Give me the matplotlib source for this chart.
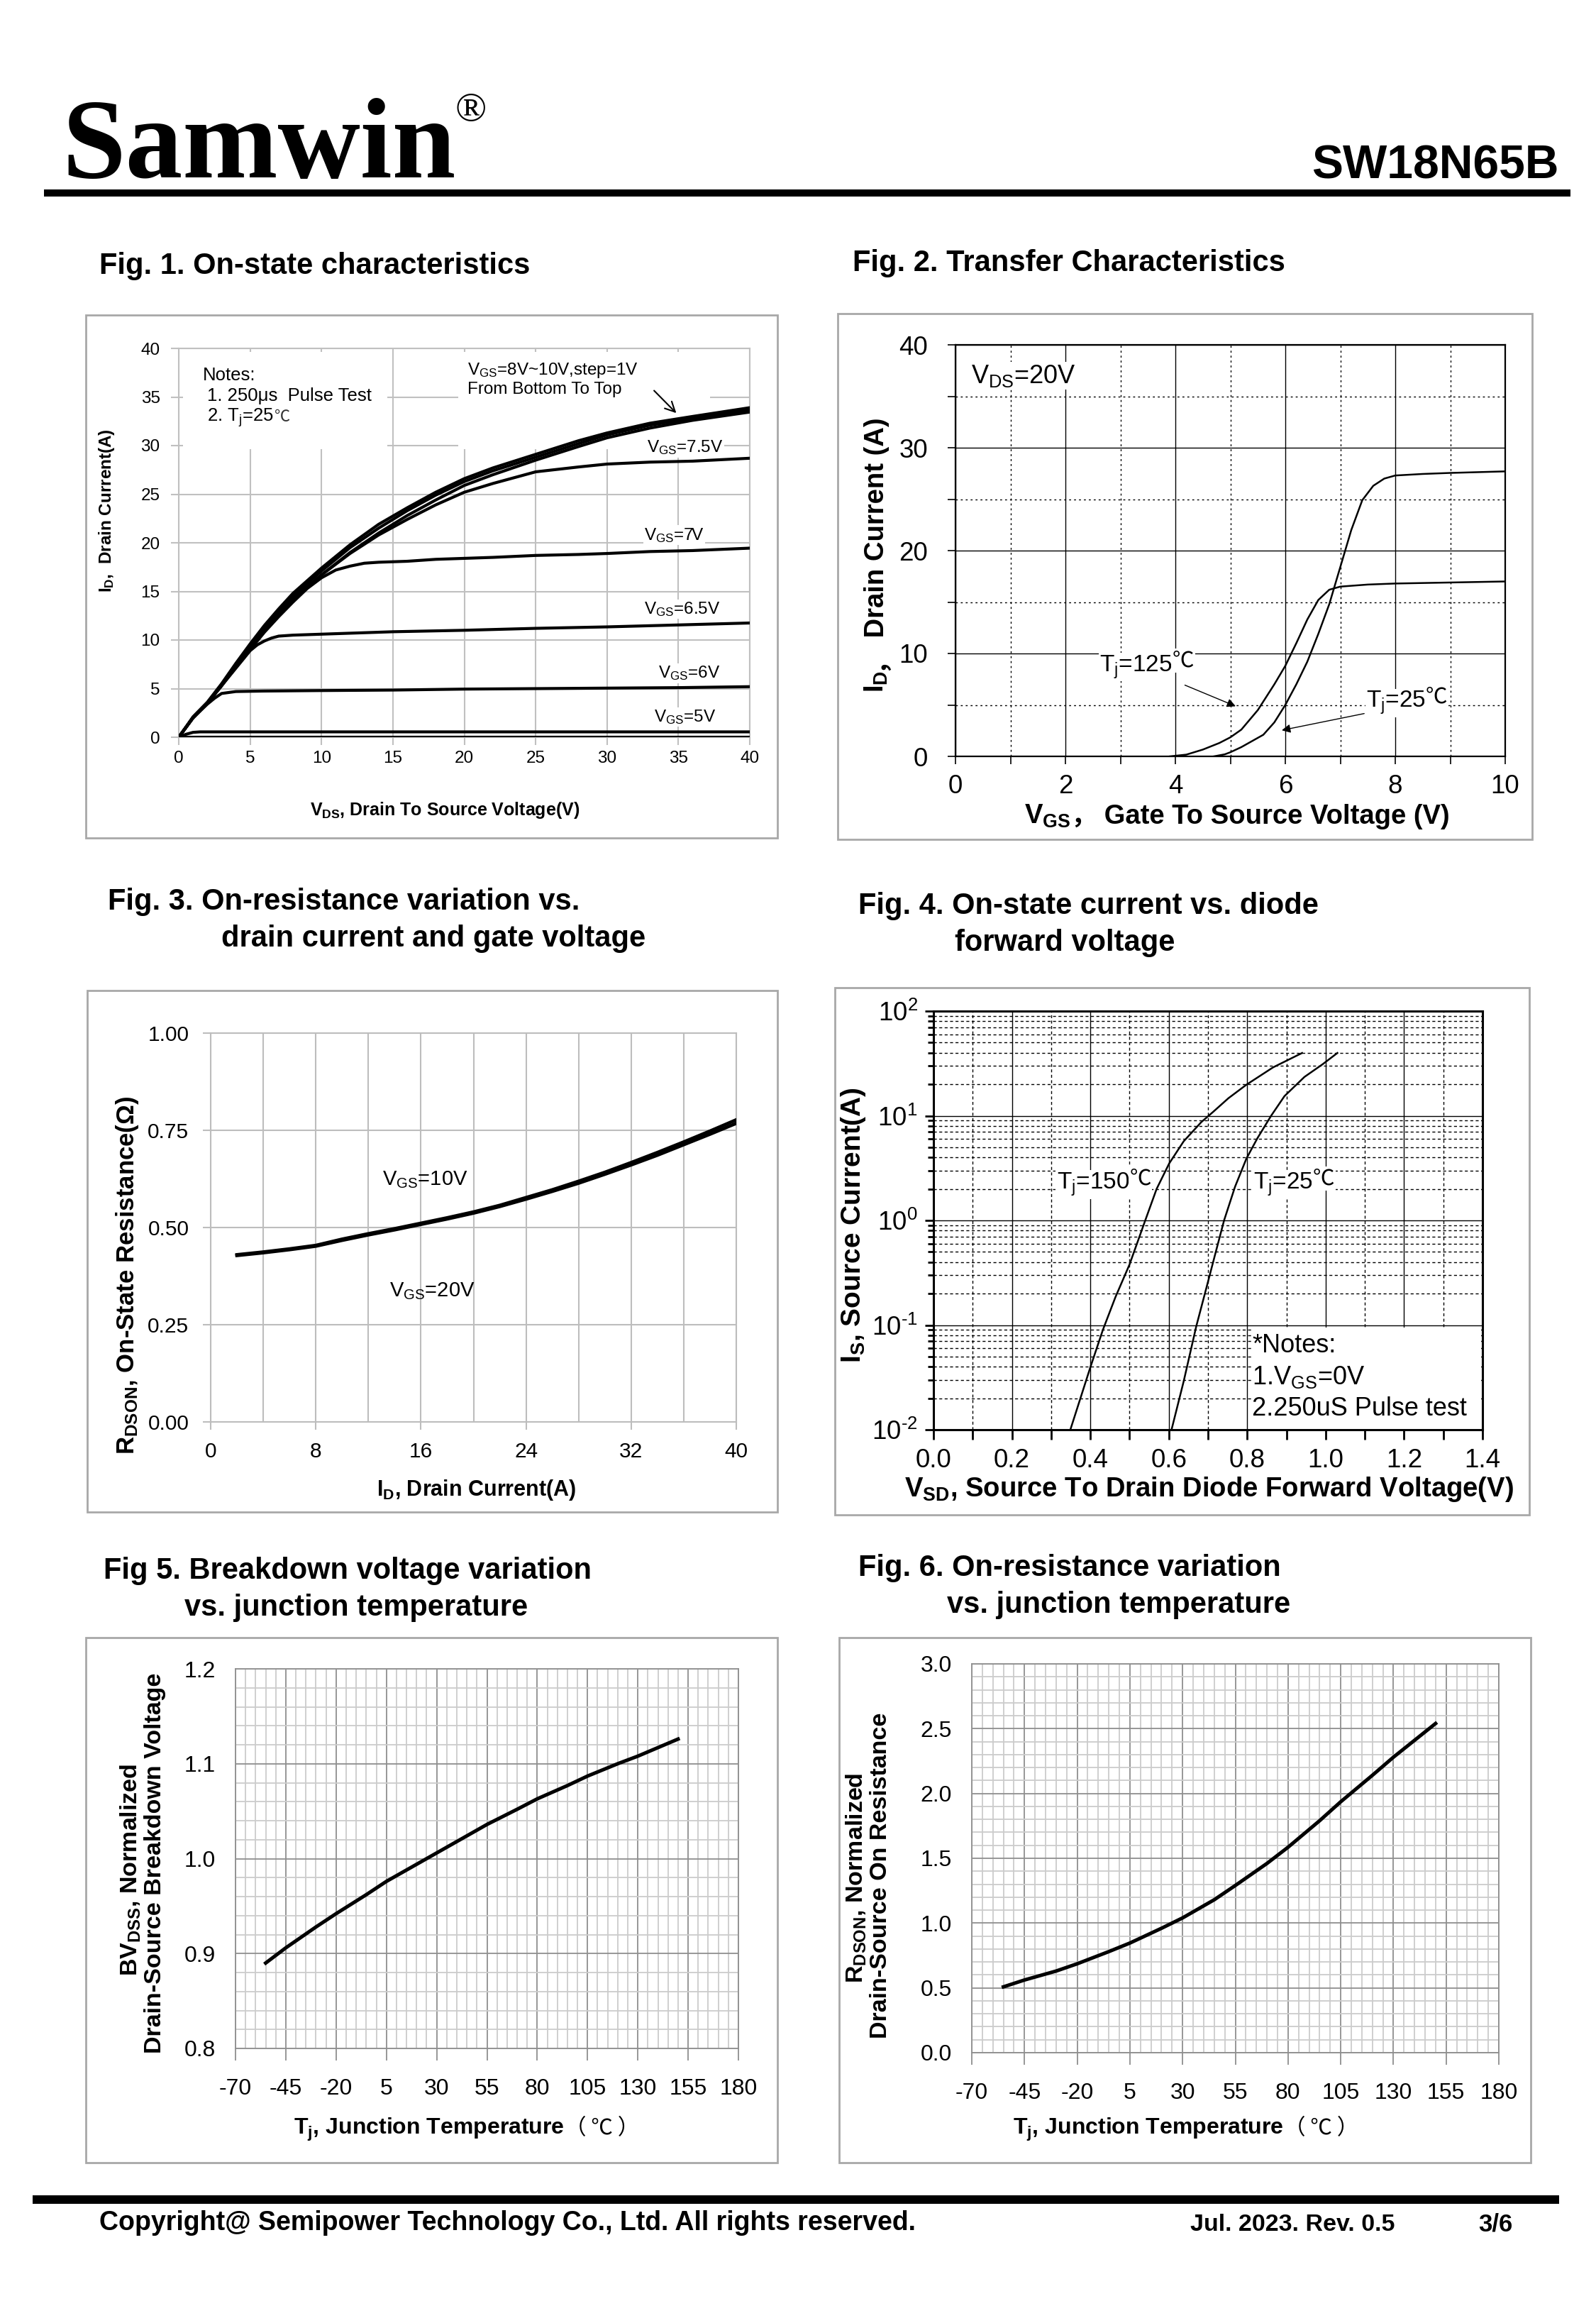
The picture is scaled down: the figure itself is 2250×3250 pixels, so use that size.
import matplotlib
matplotlib.use('Agg')
import matplotlib.pyplot as plt
import numpy as np
from matplotlib.patches import Rectangle
from matplotlib.ticker import FixedLocator, MultipleLocator, FormatStrFormatter, LogLocator, NullFormatter, FuncFormatter

plt.rcParams['font.family'] = ['Liberation Sans', 'DejaVu Sans']
plt.rcParams['mathtext.fontset'] = 'custom'
plt.rcParams['mathtext.rm'] = 'Liberation Sans'
plt.rcParams['mathtext.it'] = 'Liberation Sans:italic'
plt.rcParams['mathtext.bf'] = 'Liberation Sans:bold'
plt.rcParams['axes.unicode_minus'] = False
CJK = ['Noto Sans CJK SC', 'DejaVu Sans']

W, H = 2250, 3250

# ---- Fig 1: on-state characteristics
f1_vds = [0, 1, 2, 3, 4, 5, 6, 7, 8, 10, 12, 14, 16, 18, 20, 22, 25, 28, 30, 33, 36, 40]
f1_id_10v = [0, 2.1, 3.6, 5.5, 7.6, 9.6, 11.5, 13.2, 14.8, 17.4, 19.8, 21.9, 23.6, 25.2, 26.6, 27.7, 29.1, 30.5, 31.3, 32.3, 33.0, 33.9]
f1_id_9v = [0, 2.0, 3.5, 5.4, 7.4, 9.4, 11.3, 13.0, 14.5, 17.1, 19.5, 21.5, 23.3, 24.9, 26.3, 27.4, 28.8, 30.2, 31.1, 32.1, 32.8, 33.7]
f1_id_8v = [0, 2.0, 3.5, 5.3, 7.3, 9.2, 11.0, 12.7, 14.2, 16.7, 19.0, 21.0, 22.8, 24.4, 25.9, 27.0, 28.5, 29.9, 30.8, 31.8, 32.6, 33.45]
f1_id_75v = [0, 2.0, 3.5, 5.3, 7.3, 9.2, 11.0, 12.7, 14.2, 16.7, 18.9, 20.8, 22.4, 23.9, 25.2, 26.1, 27.3, 27.8, 28.1, 28.3, 28.4, 28.7]
f1_vds_7v = [0, 1, 2, 3, 4, 5, 6, 7, 8, 9, 10, 11, 12, 13, 14, 16, 18, 20, 22, 25, 28, 30, 33, 36, 40]
f1_id_7v = [0, 2.0, 3.5, 5.3, 7.2, 9.0, 10.8, 12.4, 13.9, 15.3, 16.4, 17.2, 17.6, 17.9, 18.0, 18.1, 18.3, 18.4, 18.5, 18.7, 18.8, 18.9, 19.1, 19.2, 19.45]
f1_vds_65v = [0, 1, 2, 3, 4, 5, 5.5, 6, 6.5, 7, 8, 10, 15, 20, 25, 30, 35, 40]
f1_id_65v = [0, 2.0, 3.5, 5.3, 7.1, 8.9, 9.5, 9.9, 10.2, 10.4, 10.5, 10.6, 10.85, 11.0, 11.2, 11.35, 11.55, 11.75]
f1_vds_6v = [0, 1, 2, 2.5, 3, 4, 6, 10, 15, 20, 25, 30, 35, 40]
f1_id_6v = [0, 2.0, 3.4, 4.0, 4.5, 4.7, 4.75, 4.8, 4.85, 4.95, 5.0, 5.05, 5.1, 5.2]
f1_vds_5v = [0, 0.5, 1, 1.5, 10, 20, 30, 40]
f1_id_5v = [0, 0.3, 0.5, 0.55, 0.55, 0.55, 0.55, 0.55]
f1_vds_low = [0.3, 40]
f1_id_low = [0.03, 0.03]

# ---- Fig 2: transfer characteristics
f2_vgs_25 = [4.7, 4.9, 5.0, 5.2, 5.4, 5.6, 5.8, 6.0, 6.2, 6.4, 6.6, 6.8, 7.0, 7.2, 7.4, 7.6, 7.8, 8.0, 8.5, 9.0, 10.0]
f2_id_25 = [0, 0.2, 0.4, 0.9, 1.5, 2.1, 3.3, 5.0, 7.0, 9.2, 11.9, 14.8, 18.4, 22.0, 24.9, 26.3, 27.0, 27.3, 27.45, 27.55, 27.7]
f2_vgs_125 = [3.9, 4.2, 4.5, 4.8, 5.0, 5.2, 5.5, 5.8, 6.0, 6.2, 6.4, 6.6, 6.8, 7.0, 7.5, 8.0, 9.0, 10.0]
f2_id_125 = [0, 0.17, 0.66, 1.3, 1.85, 2.6, 4.5, 7.0, 8.8, 11.0, 13.3, 15.2, 16.2, 16.5, 16.7, 16.8, 16.9, 17.0]

# ---- Fig 3: on-resistance vs drain current
f3_id = [2, 4, 6, 8, 10, 12, 14, 16, 18, 20, 22, 24, 26, 28, 30, 32, 34, 36, 38, 40]
f3_r_10v = [0.430, 0.437, 0.445, 0.454, 0.470, 0.484, 0.497, 0.511, 0.525, 0.540, 0.557, 0.577, 0.597, 0.619, 0.642, 0.667, 0.693, 0.720, 0.748, 0.777]
f3_r_20v = [0.428, 0.435, 0.443, 0.452, 0.467, 0.481, 0.494, 0.508, 0.522, 0.537, 0.554, 0.573, 0.593, 0.614, 0.637, 0.661, 0.686, 0.713, 0.740, 0.768]

# ---- Fig 4: body diode forward
f4_vsd_150 = [0.349, 0.40, 0.432, 0.464, 0.50, 0.54, 0.569, 0.601, 0.638, 0.683, 0.712, 0.752, 0.798, 0.866, 0.94]
f4_is_150 = [0.01, 0.0395, 0.090, 0.185, 0.38, 1.0, 2.0, 3.5, 5.7, 8.7, 10.8, 14.7, 19.8, 29, 39.8]
f4_vsd_25 = [0.607, 0.638, 0.670, 0.695, 0.718, 0.741, 0.769, 0.798, 0.826, 0.861, 0.895, 0.946, 0.992, 1.03]
f4_is_25 = [0.01, 0.029, 0.097, 0.22, 0.47, 1.0, 2.1, 3.9, 6.1, 10, 15.4, 23.5, 31, 39.8]

# ---- Fig 5 / Fig 6: vs junction temperature
tj = [-55, -45, -30, -20, -5, 5, 20, 30, 45, 55, 70, 80, 95, 105, 120, 130, 140, 150]
bvdss_norm = [0.890, 0.906, 0.928, 0.942, 0.962, 0.976, 0.994, 1.006, 1.024, 1.036, 1.052, 1.063, 1.077, 1.087, 1.100, 1.108, 1.117, 1.126]
rdson_norm = [0.508, 0.561, 0.630, 0.686, 0.780, 0.846, 0.960, 1.040, 1.180, 1.290, 1.460, 1.585, 1.790, 1.936, 2.140, 2.280, 2.410, 2.540]
tj_ticks = [-70, -45, -20, 5, 30, 55, 80, 105, 130, 155, 180]

fig = plt.figure(figsize=(W / 100, H / 100), dpi=100)


def axes_px(l, t, r, b):
    return fig.add_axes([l / W, 1 - b / H, (r - l) / W, (b - t) / H])


def box_px(l, t, r, b, **kw):
    fig.add_artist(Rectangle((l / W, 1 - b / H), (r - l) / W, (b - t) / H,
                             transform=fig.transFigure, **kw))


def ftext(x, y, s, **kw):
    return fig.text(x / W, 1 - y / H, s, **kw)


def tail(t, s, gap=0, vertical=False, **kw):
    # put s right after text t, on the same baseline
    r = fig.canvas.get_renderer()
    bb = t.get_window_extent(r)
    x0, y0 = t.get_transform().transform(t.get_position())
    if vertical:
        return fig.text(x0 / W, (bb.y1 + gap) / H, s, rotation=90, rotation_mode='anchor',
                        ha='left', va='baseline', **kw)
    return fig.text((bb.x1 + gap) / W, y0 / H, s, ha='left', va='baseline', **kw)


# header / footer
ftext(87, 250, 'Samwin', family='Liberation Serif', weight='bold', fontsize=116, va='baseline')
ftext(642, 130, '®', family='Liberation Serif', fontsize=42, va='top')
ftext(2198, 252, 'SW18N65B', weight='bold', fontsize=47.5, ha='right', va='baseline')
box_px(62, 267, 2214, 277, facecolor='black', edgecolor='none')
box_px(46, 3094, 2198, 3106, facecolor='black', edgecolor='none')
ftext(140, 3133, 'Copyright@ Semipower Technology Co., Ltd. All rights reserved.', weight='bold', fontsize=27, va='center')
ftext(1678, 3135, 'Jul. 2023. Rev. 0.5', weight='bold', fontsize=24.5, va='center')
ftext(2084, 3135, '3/6', weight='bold', fontsize=25, va='center')

# figure titles
tkw = dict(weight='bold', fontsize=30, va='center')
ftext(140, 375, 'Fig. 1. On-state characteristics', **tkw)
ftext(1202, 371, 'Fig. 2. Transfer Characteristics', **tkw)
ftext(152, 1271, 'Fig. 3. On-resistance variation vs.', **tkw)
ftext(312, 1323, 'drain current and gate voltage', **tkw)
ftext(1210, 1277, 'Fig. 4. On-state current vs. diode', **tkw)
ftext(1346, 1329, 'forward voltage', **tkw)
ftext(146, 2214, 'Fig 5. Breakdown voltage variation', **tkw)
ftext(260, 2266, 'vs. junction temperature', **tkw)
ftext(1210, 2210, 'Fig. 6. On-resistance variation', **tkw)
ftext(1335, 2262, 'vs. junction temperature', **tkw)

# panel frames
fkw = dict(fill=False, edgecolor='#a8a8a8', linewidth=2)
box_px(121, 444, 1096, 1181, **fkw)
box_px(1181, 442, 2160, 1183, **fkw)
box_px(123, 1396, 1096, 2131, **fkw)
box_px(1177, 1392, 2156, 2135, **fkw)
box_px(121, 2308, 1096, 3048, **fkw)
box_px(1183, 2308, 2158, 3048, **fkw)

WB = dict(facecolor='white', edgecolor='none', pad=1)

# ================= Fig 1 =================
ax1 = axes_px(252, 491, 1057, 1039)
g1 = '#c0c0c0'
ax1.add_patch(Rectangle((0.3, 29.6), 14.3, 10.0, facecolor='white', edgecolor='none', zorder=1))
ax1.add_patch(Rectangle((19.6, 29.6), 17.6, 10.0, facecolor='white', edgecolor='none', zorder=1))
for xs, ys in [(f1_vds, f1_id_10v), (f1_vds, f1_id_9v), (f1_vds, f1_id_8v), (f1_vds, f1_id_75v),
               (f1_vds_7v, f1_id_7v), (f1_vds_65v, f1_id_65v), (f1_vds_6v, f1_id_6v),
               (f1_vds_5v, f1_id_5v), (f1_vds_low, f1_id_low)]:
    ax1.plot(xs, ys, color='black', lw=3.0, zorder=3, solid_capstyle='round')
ax1.set_xlim(0, 40)
ax1.set_ylim(0, 40)
ax1.set_xticks(range(0, 41, 5))
ax1.set_yticks(range(0, 41, 5))
ax1.set_axisbelow(True)
ax1.grid(color=g1, lw=1.5)
for sp in ax1.spines.values():
    sp.set_color(g1)
    sp.set_linewidth(1.5)
ax1.tick_params(direction='out', length=8, width=1.5, color=g1, labelsize=17.5)
ax1.tick_params(axis='x', pad=6)
ax1.tick_params(axis='y', pad=11)
nkw = dict(fontsize=18.5, va='baseline', zorder=4)
ax1.text(1.68, 36.7, 'Notes:', **nkw)
ax1.text(2.0, 34.6, '1. 250μs  Pulse Test', **nkw)
t = ax1.text(2.0, 32.5, r'2. $\mathregular{T_j}$=25 ', **nkw)
tail(t, '℃', family=CJK, fontsize=16, color='#333333')
ax1.text(20.2, 37.3, r'$\mathregular{V_{GS}}$=8V~10V,step=1V', fontsize=17.5, va='baseline', zorder=4)
ax1.text(20.2, 35.3, 'From Bottom To Top', fontsize=17.5, va='baseline', zorder=4)
ax1.annotate('', xy=(34.95, 33.2), xytext=(33.2, 35.8),
             arrowprops=dict(arrowstyle='->', color='black', lw=1.5, mutation_scale=25))
lkw = dict(fontsize=17.5, va='baseline', zorder=4, bbox=WB)
ax1.text(32.8, 29.3, r'$\mathregular{V_{GS}}$=7.5V', **lkw)
ax1.text(32.6, 20.3, r'$\mathregular{V_{GS}}$=7V', **lkw)
ax1.text(32.6, 12.7, r'$\mathregular{V_{GS}}$=6.5V', **lkw)
ax1.text(33.6, 6.1, r'$\mathregular{V_{GS}}$=6V', **lkw)
ax1.text(33.3, 1.6, r'$\mathregular{V_{GS}}$=5V', **lkw)
ftext(150, 720, r'$\mathbf{I_D}$,  Drain Current(A)', rotation=90, rotation_mode='anchor',
      ha='center', va='center', weight='bold', fontsize=17.5)
ftext(627, 1142, r'$\mathbf{V_{DS}}$, Drain To Source Voltage(V)', ha='center', va='center',
      weight='bold', fontsize=18)

# ================= Fig 2 =================
ax2 = axes_px(1347, 486, 2122, 1066)
ax2.plot(f2_vgs_25, f2_id_25, color='black', lw=1.8, zorder=3)
ax2.plot(f2_vgs_125, f2_id_125, color='black', lw=1.8, zorder=3)
ax2.set_xlim(0, 10)
ax2.set_ylim(0, 40)
ax2.xaxis.set_major_locator(MultipleLocator(2))
ax2.xaxis.set_minor_locator(MultipleLocator(1))
ax2.yaxis.set_major_locator(MultipleLocator(10))
ax2.yaxis.set_minor_locator(MultipleLocator(5))
ax2.set_axisbelow(True)
ax2.grid(which='major', color='black', lw=1.0)
ax2.grid(which='minor', color='black', lw=1.0, ls=(0, (2, 3)))
for sp in ax2.spines.values():
    sp.set_linewidth(1.6)
ax2.tick_params(which='both', direction='out', length=8, width=1.2, labelsize=26.5)
ax2.tick_params(axis='x', pad=10)
ax2.tick_params(axis='y', pad=20)
ax2.text(0.28, 37.0, r'$\mathregular{V_{DS}}$=20V', fontsize=26, va='center', bbox=WB)
t = ax2.text(2.62, 8.7, r'$\mathregular{T_j}$=125', fontsize=24, va='center', bbox=WB, zorder=4)
tail(t, '℃', family=CJK, fontsize=22, bbox=WB, zorder=4)
t = ax2.text(7.47, 5.2, r'$\mathregular{T_j}$=25', fontsize=24, va='center', bbox=WB, zorder=4)
tail(t, '℃', family=CJK, fontsize=22, bbox=WB, zorder=4)
ax2.annotate('', xy=(5.13, 4.8), xytext=(4.14, 7.0),
             arrowprops=dict(arrowstyle='-|>', color='black', lw=1.0, mutation_scale=18))
ax2.annotate('', xy=(5.9, 2.5), xytext=(7.47, 4.2),
             arrowprops=dict(arrowstyle='-|>', color='black', lw=1.0, mutation_scale=18))
t = ftext(1246, 976, r'$\mathbf{I_D}$', rotation=90, rotation_mode='anchor', ha='left',
          va='baseline', weight='bold', fontsize=27.5)
t = tail(t, '，', vertical=True, family=CJK, weight='bold', fontsize=26)
tail(t, ' Drain Current (A)', vertical=True, weight='bold', fontsize=27.5)
t = ftext(1444, 1161, r'$\mathbf{V_{GS}}$', va='baseline', weight='bold', fontsize=27.5)
t = tail(t, '，', family=CJK, weight='bold', fontsize=26)
tail(t, ' Gate To Source Voltage (V)', weight='bold', fontsize=27.5)

# ================= Fig 3 =================
ax3 = axes_px(297, 1456, 1038, 2004)
g3 = '#bdbdbd'
ax3.plot(f3_id, f3_r_10v, color='black', lw=3.4, zorder=3)
ax3.plot(f3_id, f3_r_20v, color='black', lw=3.4, zorder=3)
ax3.set_xlim(0, 40)
ax3.set_ylim(0, 1.0)
ax3.xaxis.set_major_locator(MultipleLocator(8))
ax3.xaxis.set_minor_locator(MultipleLocator(4))
ax3.yaxis.set_major_locator(MultipleLocator(0.25))
ax3.yaxis.set_major_formatter(FormatStrFormatter('%.2f'))
ax3.set_axisbelow(True)
ax3.grid(which='both', color=g3, lw=1.5)
for sp in ax3.spines.values():
    sp.set_color(g3)
    sp.set_linewidth(1.5)
ax3.tick_params(which='major', direction='out', length=8, width=1.5, color=g3, labelsize=21.5)
ax3.tick_params(which='minor', length=0)
ax3.tick_params(axis='x', pad=12)
ax3.tick_params(axis='y', pad=14)
ax3.text(13.06, 0.623, r'$\mathregular{V_{GS}}$=10V', fontsize=21, va='center')
ax3.text(13.6, 0.337, r'$\mathregular{V_{GS}}$=20V', fontsize=21, va='center')
ftext(179, 1797, r'$\mathbf{R_{DSON}}$, On-State Resistance(Ω)', rotation=90, rotation_mode='anchor',
      ha='center', va='center', weight='bold', fontsize=25)
ftext(672, 2100, r'$\mathbf{I_D}$, Drain Current(A)', ha='center', va='center', weight='bold', fontsize=22)

# ================= Fig 4 =================
ax4 = axes_px(1316, 1425, 2090, 2015)
ax4.plot(f4_vsd_150, f4_is_150, color='black', lw=1.8, zorder=3)
ax4.plot(f4_vsd_25, f4_is_25, color='black', lw=1.8, zorder=3)
ax4.set_yscale('log')
ax4.set_xlim(0, 1.4)
ax4.set_ylim(0.01, 100)
ax4.xaxis.set_major_locator(MultipleLocator(0.2))
ax4.xaxis.set_minor_locator(MultipleLocator(0.1))
ax4.xaxis.set_major_formatter(FormatStrFormatter('%.1f'))
ax4.yaxis.set_major_locator(LogLocator(base=10, numticks=10))
ax4.yaxis.set_minor_locator(LogLocator(base=10, subs=np.arange(2, 10), numticks=20))
ax4.yaxis.set_minor_formatter(NullFormatter())
ax4.yaxis.set_major_formatter(FuncFormatter(
    lambda v, p: r'$\mathregular{10^{%s}}$' % (r'\text{-}%d' % -round(np.log10(v)) if v < 1 else '%d' % round(np.log10(v)))))
ax4.set_axisbelow(True)
ax4.grid(which='major', color='black', lw=1.0)
ax4.grid(which='minor', color='black', lw=1.0, ls=(0, (3, 2.5)))
for sp in ax4.spines.values():
    sp.set_linewidth(2.2)
ax4.tick_params(which='both', direction='out', width=2, labelsize=26.5)
ax4.tick_params(axis='x', which='both', length=10, pad=9)
ax4.tick_params(axis='y', which='major', length=9, pad=7)
ax4.tick_params(axis='y', which='minor', length=6)
ax4.add_patch(Rectangle((0.81, 0.0102), 0.587, 0.084, facecolor='white', edgecolor='none', zorder=2))
t = ax4.text(0.314, 2.2, r'$\mathregular{T_j}$=150', fontsize=24, va='center', bbox=WB, zorder=4)
tail(t, '℃', family=CJK, fontsize=22, bbox=WB, zorder=4)
t = ax4.text(0.815, 2.2, r'$\mathregular{T_j}$=25', fontsize=24, va='center', bbox=WB, zorder=4)
tail(t, '℃', family=CJK, fontsize=22, bbox=WB, zorder=4)
ax4.text(0.812, 0.064, '*Notes:', fontsize=26, va='center', zorder=4)
ax4.text(0.812, 0.0316, r'1.$\mathregular{V_{GS}}$=0V', fontsize=26, va='center', zorder=4)
ax4.text(0.812, 0.0158, '2.250uS Pulse test', fontsize=26, va='center', zorder=4)
ftext(1203, 1727, r'$\mathbf{I_S}$, Source Current(A)', rotation=90, rotation_mode='anchor',
      ha='center', va='center', weight='bold', fontsize=28)
ftext(1704, 2099, r'$\mathbf{V_{SD}}$, Source To Drain Diode Forward Voltage(V)', ha='center',
      va='center', weight='bold', fontsize=27.5)


# ================= Fig 5 / Fig 6 =================
def temp_axes(ax, ymin, ymax, ymaj, ymin_step, fmt):
    ax.set_xlim(-70, 180)
    ax.set_ylim(ymin, ymax)
    ax.xaxis.set_major_locator(FixedLocator(tj_ticks))
    ax.xaxis.set_minor_locator(MultipleLocator(5))
    ax.yaxis.set_major_locator(MultipleLocator(ymaj))
    ax.yaxis.set_minor_locator(MultipleLocator(ymin_step))
    ax.yaxis.set_major_formatter(FormatStrFormatter(fmt))
    ax.set_axisbelow(True)
    ax.grid(which='minor', color='#cccccc', lw=1.3)
    ax.grid(which='major', color='#8f8f8f', lw=1.3)
    for sp in ax.spines.values():
        sp.set_color('#8f8f8f')
        sp.set_linewidth(1.3)
    ax.tick_params(which='both', labelsize=23)
    ax.tick_params(axis='x', which='major', direction='out', length=12, width=1.3, color='#8f8f8f', pad=18)
    ax.tick_params(axis='y', which='major', length=0, pad=20)
    ax.tick_params(which='minor', length=0)


ax5 = axes_px(332, 2352, 1041, 2887)
ax5.plot(tj, bvdss_norm, color='black', lw=3.6, zorder=3)
temp_axes(ax5, 0.8, 1.2, 0.1, 0.02, '%.1f')
ftext(184, 2635, r'$\mathbf{BV_{DSS}}$, Normalized', rotation=90, rotation_mode='anchor',
      ha='center', va='center', weight='bold', fontsize=24.5)
ftext(219, 2626, 'Drain-Source Breakdown Voltage', rotation=90, rotation_mode='anchor',
      ha='center', va='center', weight='bold', fontsize=24.5)
t = ftext(414, 3008, r'$\mathbf{T_j}$, Junction Temperature', va='baseline', weight='bold', fontsize=23)
tail(t, '（ ℃ ）', family=CJK, fontsize=22)

ax6 = axes_px(1370, 2345, 2113, 2893)
ax6.plot(tj, rdson_norm, color='black', lw=3.6, zorder=3)
temp_axes(ax6, 0.0, 3.0, 0.5, 0.1, '%.1f')
ftext(1207, 2647, r'$\mathbf{R_{DSON}}$, Normalized', rotation=90, rotation_mode='anchor',
      ha='center', va='center', weight='bold', fontsize=24.5)
ftext(1242, 2643, 'Drain-Source On Resistance', rotation=90, rotation_mode='anchor',
      ha='center', va='center', weight='bold', fontsize=24.5)
t = ftext(1428, 3008, r'$\mathbf{T_j}$, Junction Temperature', va='baseline', weight='bold', fontsize=23)
tail(t, '（ ℃ ）', family=CJK, fontsize=22)

fig.savefig('out.png', dpi=100, facecolor='white')
